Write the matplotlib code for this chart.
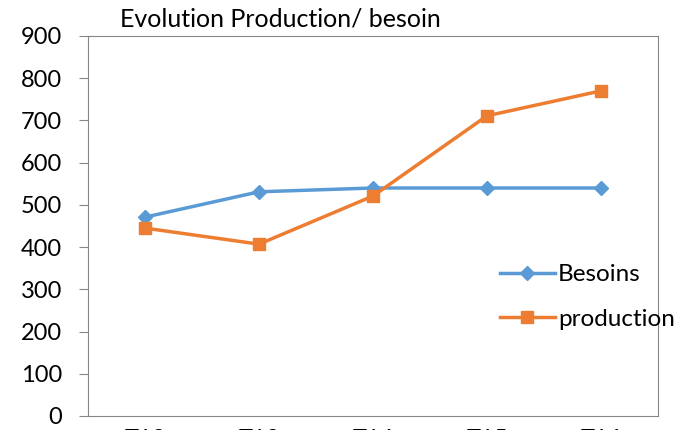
import matplotlib.pyplot as plt

# data
periods = ["T12", "T13", "T14", "T15", "T16"]
besoins = [471, 531, 540, 540, 540]
production = [445, 407, 521, 711, 770]
yticks = [0, 100, 200, 300, 400, 500, 600, 700, 800, 900]

plt.rcParams['font.family'] = ['Lato', 'DejaVu Sans']

fig = plt.figure(figsize=(6.94, 4.30), dpi=100)
ax = fig.add_axes([88/694, 14/430, 570/694, 380/430])

x = range(len(periods))
ax.plot(x, besoins, color="#5B9BD5", lw=2.5, marker="D", ms=7, label="Besoins")
ax.plot(x, production, color="#ED7D31", lw=2.5, marker="s", ms=8.5, label="production")

ax.set_xlim(-0.5, 4.5)
ax.set_ylim(0, 900)
ax.set_yticks(yticks)
ax.set_xticks(list(x))
ax.set_xticklabels(periods)
ax.tick_params(axis="y", labelsize=17, length=6.5, color="#868686", pad=12)
ax.tick_params(axis="x", labelsize=17, length=0, pad=9)
for s in ax.spines.values():
    s.set_color("#868686")

fig.text(120/694, 1 - 19/430, "Evolution Production/ besoin", fontsize=18, va="center")

fig.legend(loc="center left", bbox_to_anchor=(500/694, 1 - 297/430), frameon=False,
           fontsize=17.5, handlelength=2.26, labelspacing=0.95, borderpad=0,
           borderaxespad=0, handletextpad=0.12)

fig.savefig("out.png", dpi=100)
